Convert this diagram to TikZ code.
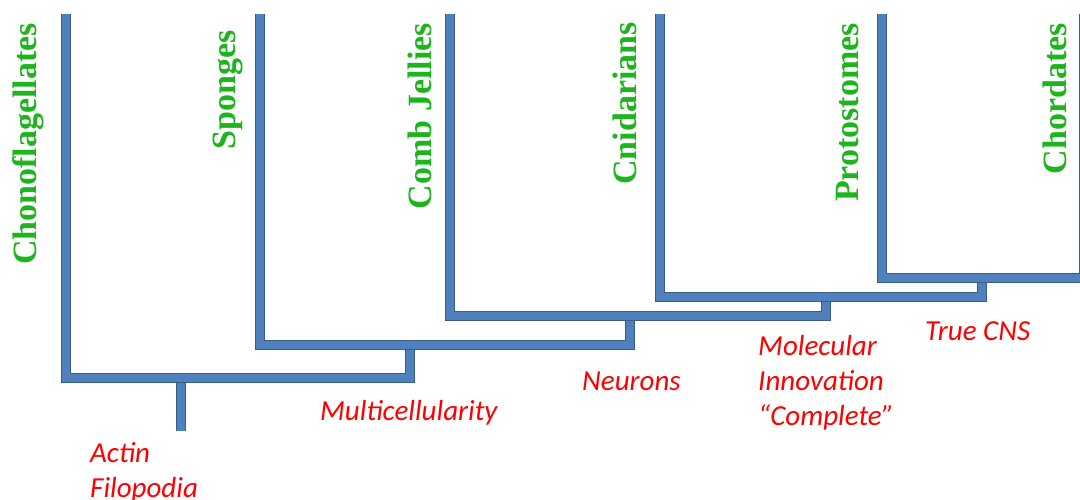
\documentclass[tikz,border=0pt]{standalone}
\usepackage{fontspec}
\setmainfont{Liberation Serif}
\newfontfamily\traitfont{Carlito}
\definecolor{branchfill}{RGB}{79,129,189}
\definecolor{branchline}{RGB}{56,93,138}
\definecolor{taxongreen}{RGB}{30,180,30}
\tikzset{
  branch/.style={draw=branchfill,line width=8pt,line join=miter,preaction={draw=branchline,line width=10pt}},
  taxon/.style={rotate=90,anchor=east,inner sep=0pt,text=taxongreen,font=\fontsize{34}{34}\selectfont\bfseries},
  trait/.style={anchor=base west,inner sep=0pt,align=left,text=red,font=\traitfont\itshape\fontsize{29}{35}\selectfont}
}
\begin{document}
\begin{tikzpicture}[x=1pt,y=-1pt]
  \useasboundingbox (0,0) rectangle (1080,500);
  \foreach \name/\x in {chonoflagellates/66,sponges/260,combjellies/450,cnidarians/660,protostomes/882,chordates/1084}
    \coordinate (\name) at (\x,14);
  \coordinate (filopodia) at (181,378);
  \coordinate (multicell) at (410,378);
  \coordinate (neurons) at (630,345);
  \coordinate (molecular) at (826,316);
  \coordinate (truecns) at (982,297);
  \coordinate (chordbase) at (1084,278);
  \coordinate (root) at (181,431);
  \draw[branch] (filopodia) -- (root);
  \foreach \a/\b/\c in {chonoflagellates/multicell/neurons,sponges/neurons/molecular,combjellies/molecular/truecns,cnidarians/truecns/chordbase,protostomes/chordbase/chordates}
    \draw[branch] (\a) |- (\b) -- (\b |- \c);
  \foreach \name/\x/\y/\txt in {chono/28/23/Chonoflagellates,spong/228/30/Sponges,comb/420/23/Comb Jellies,cnid/625/22/Cnidarians,proto/848/23/Protostomes,chord/1055/23/Chordates}
    \node[taxon] (\name-label) at (\x,\y) {\txt};
  \node[trait] (actin-label) at (90,497) {Actin\\Filopodia};
  \node[trait] (multicell-label) at (320,420) {Multicellularity};
  \node[trait] (neurons-label) at (582,390) {Neurons};
  \node[trait] (molecular-label) at (758,425) {Molecular\\Innovation\\“Complete”};
  \node[trait] (truecns-label) at (925,340) {True CNS};
\end{tikzpicture}
\end{document}
